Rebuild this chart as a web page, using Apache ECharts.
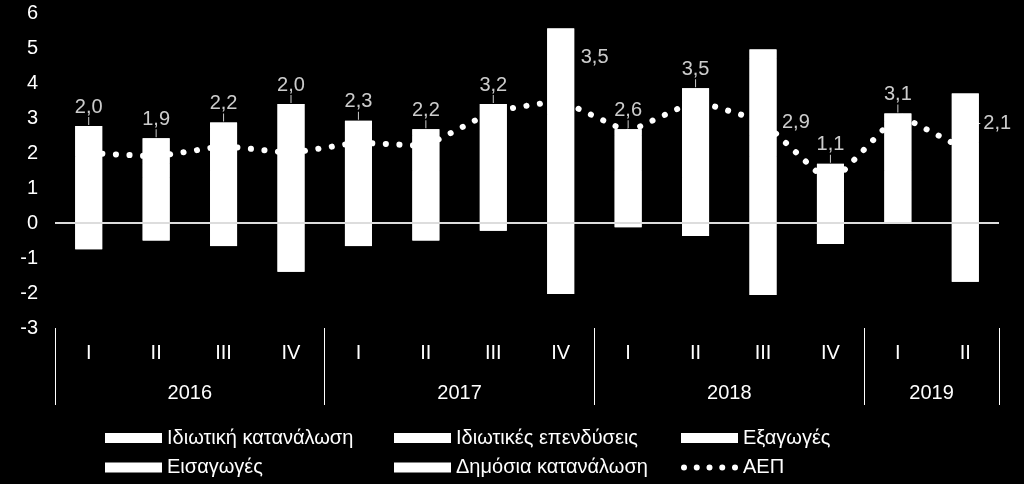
<!DOCTYPE html>
<html>
<head>
<meta charset="utf-8">
<script src="https://cdn.jsdelivr.net/npm/echarts@6/dist/echarts.min.js"></script>
<style>
html, body { margin: 0; padding: 0; background: #000; }
#chart { width: 1024px; height: 484px; }
</style>
</head>
<body>
<div id="chart"></div>
<script>
// quarters and years on the category axis
var quarters = ['I', 'II', 'III', 'IV', 'I', 'II', 'III', 'IV', 'I', 'II', 'III', 'IV', 'I', 'II'];
var years = ['2016', '2017', '2018', '2019'];
var quartersPerYear = [4, 4, 4, 2];

// contributions to growth (percentage points)
var privCons = [1.40, 1.30, 1.50, 1.20, 1.60, 1.50, 1.60, 1.80, 1.20, 1.30, 1.90, 0.90, 1.50, 1.40];
var privInv  = [0.50, 0.40, 0.30, 0.80, 0.40, 0.30, 0.60, 1.30, 0.30, 0.70, 0.60, 0.30, 0.50, 0.90];
var exportsC = [0.70, 0.50, 0.90, 1.20, 0.70, 0.70, 1.00, 2.10, 1.00, 1.50, 2.20, 0.40, 0.90, 1.10];
var importsC = [-0.75, -0.50, -0.66, -1.39, -0.66, -0.50, -0.22, -2.03, -0.12, -0.37, -2.06, -0.60, 0.00, -1.68];
var govCons  = [0.17, 0.22, 0.17, 0.20, 0.22, 0.18, 0.20, 0.36, 0.18, 0.35, 0.26, 0.09, 0.23, 0.30];
var gdp      = [2.0, 1.9, 2.2, 2.0, 2.3, 2.2, 3.2, 3.5, 2.6, 3.5, 2.9, 1.1, 3.1, 2.1];

var names = ['Ιδιωτική κατανάλωση', 'Ιδιωτικές επενδύσεις', 'Εξαγωγές', 'Εισαγωγές', 'Δημόσια κατανάλωση', 'ΑΕΠ'];

var FONT = 'Liberation Sans';
var FS = 20;

function fmt(v) {
    return v.toFixed(1).replace('.', ',');
}

// positive and negative ends of each stacked bar
var parts = [privCons, privInv, exportsC, importsC, govCons];
var tops = [];
var spans = [];
for (var i = 0; i < quarters.length; i++) {
    var up = 0, down = 0;
    for (var p = 0; p < parts.length; p++) {
        if (parts[p][i] > 0) up += parts[p][i];
        else down += parts[p][i];
    }
    tops.push(+up.toFixed(2));
    spans.push([i, +down.toFixed(2), +up.toFixed(2)]);
}

// year axis: half-step slots so year names sit between quarters
var yearSlots = [];
var yearAt = {};
var sepAt = {0: true};
var pos = 0;
for (var k = 0; k < years.length; k++) {
    yearAt[2 * pos + quartersPerYear[k]] = years[k];
    pos += quartersPerYear[k];
    sepAt[2 * pos] = true;
}
for (var j = 0; j <= 2 * quarters.length; j++) {
    yearSlots.push(yearAt[j] || '');
}

// labels that sit beside the bar instead of above it
var sideLabels = {7: [16, 29], 10: [15, 73], 13: [9, 30]};

var labelData = tops.map(function (t, idx) {
    var item = {value: t};
    if (sideLabels[idx]) {
        item.label = {
            position: 'right',
            offset: sideLabels[idx],
            formatter: function (prm) {
                return (prm.dataIndex === 13 ? '{d| }' : '') + '{v|' + fmt(gdp[prm.dataIndex]) + '}';
            },
            rich: {
                v: {color: '#fff', fontSize: FS, fontFamily: FONT, padding: [0, 0, 0, 3]},
                d: {width: 5, height: 1, fontSize: 1, backgroundColor: '#fff', verticalAlign: 'middle'}
            }
        };
    }
    return item;
});

function barSeries(name, data) {
    return {
        name: name,
        type: 'bar',
        stack: 'contrib',
        barWidth: 27,
        data: data,
        itemStyle: {color: '#fff'},
        emphasis: {disabled: true}
    };
}

var myChart = echarts.init(document.getElementById('chart'));

var legendBase = {
    orient: 'vertical',
    top: 428,
    padding: 0,
    height: 56,
    itemWidth: 57,
    itemHeight: 10,
    itemGap: 9.5,
    selectedMode: false,
    textStyle: {color: '#fff', fontSize: FS, fontFamily: FONT, lineHeight: 20}
};

// five round dots for the GDP legend entry (corner moves fix the icon box)
var dotsIcon = 'path://M0,0 M57,10 ' + [3, 15.75, 28.5, 41.25, 54].map(function (cx) {
    return 'M' + (cx - 3) + ',5 a3,3 0 1,0 6,0 a3,3 0 1,0 -6,0 Z';
}).join(' ');

var zeroSeries = barSeries(names[0], privCons);
zeroSeries.markLine = {
    silent: true,
    symbol: ['none', 'none'],
    label: {show: false},
    lineStyle: {color: '#ddd', width: 2, type: 'solid'},
    data: [{yAxis: 0}]
};

var option = {
    backgroundColor: '#000',
    animation: false,
    textStyle: {fontFamily: FONT},
    legend: [
        Object.assign({}, legendBase, {left: 105, data: [{name: names[0], icon: 'rect'}, {name: names[3], icon: 'rect'}]}),
        Object.assign({}, legendBase, {left: 394, data: [{name: names[1], icon: 'rect'}, {name: names[4], icon: 'rect'}]}),
        Object.assign({}, legendBase, {left: 681, data: [{name: names[2], icon: 'rect'}, {name: names[5], icon: dotsIcon}]})
    ],
    grid: {left: 55, right: 25, top: 13, bottom: 156},
    xAxis: [
        {
            type: 'category',
            data: quarters,
            axisLine: {show: false, onZero: false},
            axisTick: {show: false},
            axisLabel: {color: '#fff', fontSize: FS, fontFamily: FONT, margin: 15}
        },
        {
            type: 'category',
            data: yearSlots,
            boundaryGap: false,
            position: 'bottom',
            axisLine: {show: false, onZero: false},
            axisTick: {
                show: true,
                length: 77,
                interval: function (idx) { return !!sepAt[idx]; },
                lineStyle: {color: '#fff', width: 1}
            },
            axisLabel: {
                color: '#fff', fontSize: FS, fontFamily: FONT, margin: 55,
                interval: function (idx, val) { return val !== ''; }
            }
        }
    ],
    yAxis: {
        type: 'value',
        min: -3,
        max: 6,
        interval: 1,
        axisLine: {show: false},
        axisTick: {show: false},
        splitLine: {show: false},
        axisLabel: {color: '#fff', fontSize: FS, fontFamily: FONT, margin: 17}
    },
    series: [
        zeroSeries,
        barSeries(names[1], privInv),
        barSeries(names[2], exportsC),
        barSeries(names[3], importsC),
        barSeries(names[4], govCons),
        {
            // solid white cover over the stack so segment seams do not show
            name: 'cover',
            type: 'custom',
            data: spans,
            encode: {x: 0, y: [1, 2]},
            z: 3,
            silent: true,
            renderItem: function (params, api) {
                var lo = api.coord([api.value(0), api.value(1)]);
                var hi = api.coord([api.value(0), api.value(2)]);
                var w = api.size([1, 0])[0] * 0.4;
                return {
                    type: 'rect',
                    shape: {x: hi[0] - w / 2, y: hi[1], width: w, height: lo[1] - hi[1]},
                    style: {fill: '#fff'}
                };
            }
        },
        {
            name: names[5],
            type: 'line',
            data: gdp,
            symbol: 'none',
            z: 5,
            itemStyle: {color: '#fff'},
            lineStyle: {color: '#fff', width: 6, type: [0.1, 13.5], cap: 'round'},
            emphasis: {disabled: true}
        },
        {
            name: 'labels',
            type: 'scatter',
            data: labelData,
            symbolSize: 0,
            z: 6,
            silent: true,
            label: {
                show: true,
                position: 'top',
                distance: 1,
                formatter: function (prm) {
                    return '{v|' + fmt(gdp[prm.dataIndex]) + '}\n{l| }';
                },
                rich: {
                    v: {color: '#fff', fontSize: FS, fontFamily: FONT, lineHeight: 20, align: 'center'},
                    l: {width: 1, height: 8, lineHeight: 8, backgroundColor: '#fff', align: 'center', fontSize: 1}
                }
            }
        }
    ]
};

myChart.setOption(option);
</script>
</body>
</html>
